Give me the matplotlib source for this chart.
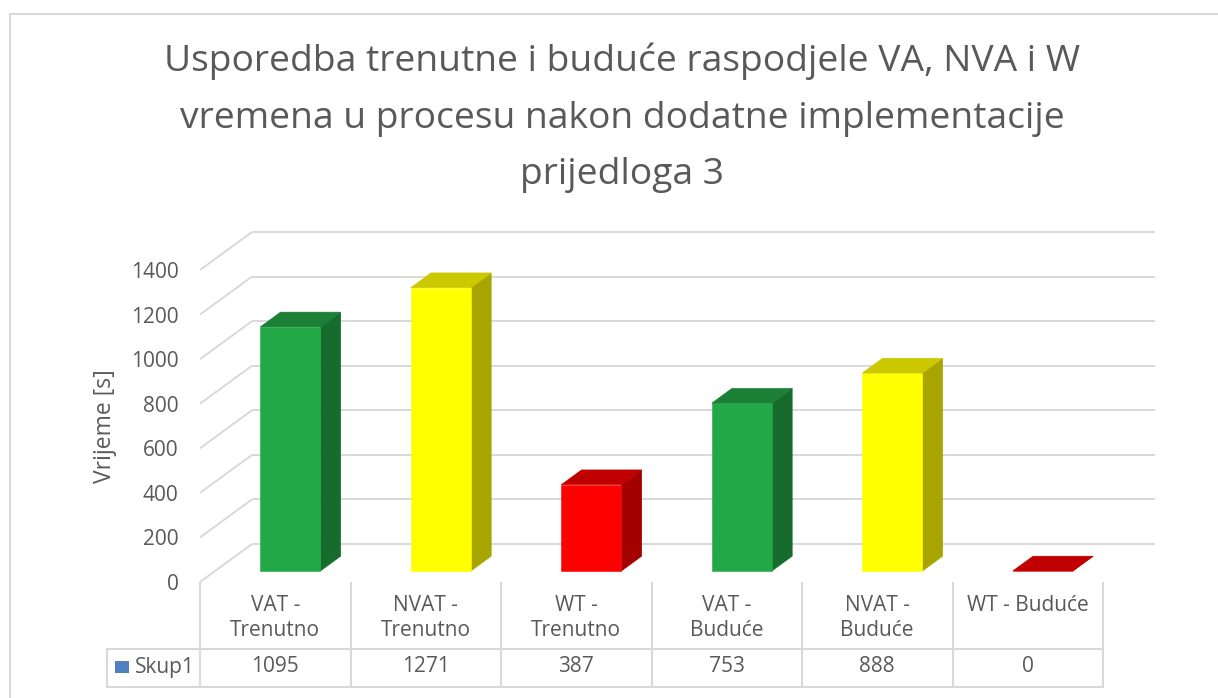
import matplotlib
matplotlib.use("Agg")
import matplotlib.pyplot as plt
from matplotlib.patches import Polygon, Rectangle

plt.rcParams["font.family"] = ["Open Sans", "DejaVu Sans"]

# ---- podaci ----
categories = ["VAT -\nTrenutno", "NVAT -\nTrenutno", "WT -\nTrenutno",
              "VAT -\nBuduće", "NVAT -\nBuduće", "WT - Buduće"]
values = [1095, 1271, 387, 753, 888, 0]
series_name = "Skup1"
yticks = [0, 200, 400, 600, 800, 1000, 1200, 1400]
title = ("Usporedba trenutne i buduće raspodjele VA, NVA i W\n"
         "vremena u procesu nakon dodatne implementacije\n"
         "prijedloga 3")

# boje: (prednja, gornja, bocna) strana stupca
GREEN = ("#22A846", "#1B8036", "#156C2C")
YELLOW = ("#FFFF00", "#CCC800", "#A9A500")
RED = ("#FF0000", "#C00000", "#A30000")
bar_colors = [GREEN, YELLOW, RED, GREEN, YELLOW, RED]

TEXT = "#595959"
GRID = "#D9D9D9"
W, H = 1218, 698

# kosa projekcija dubine (u jedinicama kategorija / sekundi)
DX, DY = 0.3455, 170.5
F0, F1 = 0.29, 0.68        # prednji / straznji rub stupca po dubini
BAR_OFF, BAR_W = 0.3, 0.4

fig = plt.figure(figsize=(W / 100, H / 100), dpi=100, facecolor="white")

# okvir grafikona
fig.add_artist(Rectangle((10 / W, -0.05), 1.2, 1 - 14 / H + 0.05,
                         transform=fig.transFigure, fill=False,
                         edgecolor=GRID, lw=1.5))

ax = fig.add_axes([200 / W, 116 / H, 903 / W, 312 / H])
ax.set_xlim(0, len(values))
ax.set_ylim(0, 1400)
for s in ax.spines.values():
    s.set_visible(False)
ax.set_facecolor("none")
ax.set_xticks([])
ax.set_yticks(yticks)
ax.tick_params(axis="y", length=0, pad=15.5, labelsize=15, labelcolor=TEXT)

# zidovi: lijevi (kosi) i straznji (vodoravni) gridlines
n = len(values)
for v in yticks:
    ax.plot([0, DX], [v, v + DY], color=GRID, lw=1.4, clip_on=False, zorder=1,
            solid_capstyle="butt")
    ax.plot([DX, n + DX], [v + DY, v + DY], color=GRID, lw=1.4,
            clip_on=False, zorder=1, solid_capstyle="butt")

# 3D stupci
for i, (v, (c_front, c_top, c_side)) in enumerate(zip(values, bar_colors)):
    x0 = i + BAR_OFF + F0 * DX
    x1 = x0 + BAR_W
    x0b, x1b = i + BAR_OFF + F1 * DX, i + BAR_OFF + F1 * DX + BAR_W
    y0, y1 = F0 * DY, F1 * DY
    front = [(x0, y0), (x1, y0), (x1, v + y0), (x0, v + y0)]
    top = [(x0, v + y0), (x1, v + y0), (x1b, v + y1), (x0b, v + y1)]
    side = [(x1, y0), (x1b, y1), (x1b, v + y1), (x1, v + y0)]
    for pts, col in ((side, c_side), (front, c_front), (top, c_top)):
        ax.add_patch(Polygon(pts, closed=True, facecolor=col, edgecolor=col,
                             lw=0.4, clip_on=False, zorder=3))

# naslov osi
ax.text(-95 / 903, 0.5, "Vrijeme [s]", transform=ax.transAxes, rotation=90,
        ha="center", va="center", fontsize=16.5, color=TEXT)

# tablica podataka ispod grafikona
tr = ax.get_xaxis_transform()
y_top, y_mid, y_bot = -1 / 312, -67 / 312, -105 / 312
x_leg = -93 / 150.5
for i in range(n + 1):
    ax.plot([i, i], [y_top, y_bot], transform=tr, color=GRID, lw=1.5,
            clip_on=False)
ax.plot([x_leg, x_leg], [y_mid, y_bot], transform=tr, color=GRID, lw=1.5,
        clip_on=False)
for yy in (y_mid, y_bot):
    ax.plot([x_leg, n], [yy, yy], transform=tr, color=GRID, lw=1.5,
            clip_on=False)

for i, (lab, v) in enumerate(zip(categories, values)):
    ax.text(i + 0.5, -13 / 312, lab, transform=tr, ha="center", va="top",
            fontsize=15, color=TEXT, linespacing=1.25)
    ax.text(i + 0.5, -85 / 312, f"{v}", transform=tr, ha="center",
            va="center", fontsize=15, color=TEXT)

ax.add_patch(Rectangle((-85 / 150.5, -91 / 312), 14 / 150.5, 12 / 312,
                       transform=tr, facecolor="#4E81BD", edgecolor="none",
                       clip_on=False))
ax.text(-65 / 150.5, -85 / 312, series_name, transform=tr, ha="left",
        va="center", fontsize=15, color=TEXT)

# naslov grafikona
fig.text(622 / W, 1 - 118 / H, title, ha="center", va="center",
         fontsize=26.8, color=TEXT, linespacing=1.75)

fig.savefig("out.png", dpi=100, facecolor="white")
